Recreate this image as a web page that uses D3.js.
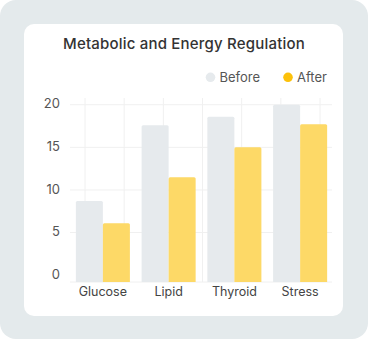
<!DOCTYPE html>
<html><head><meta charset="utf-8">
<script src="https://cdn.jsdelivr.net/npm/d3@7"></script>
<style>
html,body{margin:0;padding:0;background:#fff;}
svg{display:block;font-family:Inter, "Open Sans", sans-serif;}
</style></head>
<body>
<svg id="chart" width="368" height="340"></svg>
<script>
const categories = ["Glucose", "Lipid", "Thyroid", "Stress"];
const beforeValues = [8.7, 17.6, 18.6, 20.0];
const afterValues = [6.1, 11.5, 15.0, 17.7];
const seriesNames = ["Before", "After"];
const yTicks = [0, 5, 10, 15, 20];
const vGrid = [0, 1, 2, 3, 4, 5, 6];
const chartTitle = "Metabolic and Energy Regulation";

(function () {
const colors = { Before: "#e6eaed", After: "#fdd967" };
const legendColors = { Before: "#e6eaed", After: "#fcc10b" };

const svg = d3.select("#chart");
svg.append("rect").attr("x", 0).attr("y", 0).attr("width", 368).attr("height", 339)
  .attr("rx", 16).attr("fill", "#e4eaec");
svg.append("rect").attr("x", 24).attr("y", 24).attr("width", 319).attr("height", 292)
  .attr("rx", 10).attr("fill", "#ffffff");

svg.append("text").attr("x", 184).attr("y", 49).attr("text-anchor", "middle")
  .attr("font-size", 15).attr("font-weight", 500).attr("fill", "#333")
  .attr("letter-spacing", 0.2).text(chartTitle);

const pL = 70, pR = 333, pT = 104.7, pB = 282;
const x0 = d3.scaleBand().domain(categories).range([pL, pR]).paddingInner(0.178).paddingOuter(0.089);
const x1 = d3.scaleBand().domain(seriesNames).range([0, x0.bandwidth()]).padding(0);
const y = d3.scaleLinear().domain([-0.8, 20]).range([pB, pT]);
const gx = d3.scaleLinear().domain([0, 6]).range([85, 320]);

const grid = svg.append("g");
grid.selectAll("line.v").data(vGrid).join("line").attr("class", "v")
  .attr("x1", d => gx(d)).attr("x2", d => gx(d)).attr("y1", 98).attr("y2", pB)
  .attr("stroke", "#f0f0f0").attr("stroke-width", 1);
grid.selectAll("line.h").data(yTicks.filter(d => d > 0)).join("line").attr("class", "h")
  .attr("x1", pL).attr("x2", 332).attr("y1", d => y(d)).attr("y2", d => y(d))
  .attr("stroke", "#f0f0f0").attr("stroke-width", 1);
grid.append("line").attr("x1", pL).attr("x2", 332).attr("y1", pB).attr("y2", pB)
  .attr("stroke", "#f0f0f0");

const rows = categories.map((c, i) => ({ cat: c, vals: [
  { s: "Before", v: beforeValues[i] }, { s: "After", v: afterValues[i] }] }));

const groups = svg.append("g").selectAll("g").data(rows).join("g")
  .attr("transform", d => `translate(${x0(d.cat)},0)`);
groups.selectAll("path").data(d => d.vals).join("path")
  .attr("fill", d => colors[d.s])
  .attr("d", d => {
    const x = x1(d.s), w = x1.bandwidth(), t = y(d.v), b = pB, r = 1.5;
    return `M${x},${b}V${t + r}Q${x},${t} ${x + r},${t}H${x + w - r}Q${x + w},${t} ${x + w},${t + r}V${b}Z`;
  });

const yAxis = d3.axisLeft(y).tickValues(yTicks).tickSize(0).tickPadding(0);
const ya = svg.append("g").attr("transform", "translate(60,-1)").call(yAxis);
ya.select(".domain").remove();
ya.selectAll("text").attr("font-size", 13).attr("fill", "#555").attr("font-family", "Inter, sans-serif");

const xAxis = d3.axisBottom(x0).tickSize(0).tickPadding(5);
const xa = svg.append("g").attr("transform", `translate(0,${pB})`).call(xAxis);
xa.select(".domain").remove();
xa.selectAll("text").attr("font-size", 12.5).attr("fill", "#444").attr("font-family", "Inter, sans-serif");

const legend = svg.append("g");
const legendPos = { Before: 210.5, After: 288 };
seriesNames.forEach(s => {
  legend.append("circle").attr("cx", legendPos[s]).attr("cy", 77.3).attr("r", 4.8).attr("fill", legendColors[s]);
  legend.append("text").attr("x", legendPos[s] + 9).attr("y", 77.3).attr("dy", "0.35em")
    .attr("font-size", 13).attr("fill", "#555").text(s);
});
})();
</script>
</body></html>
